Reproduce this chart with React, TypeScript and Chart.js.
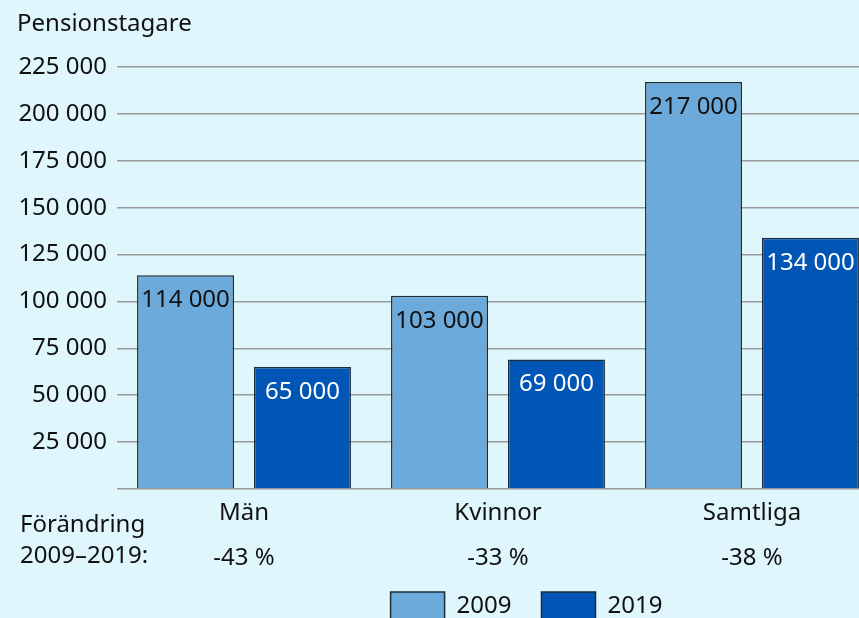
import React, { useEffect, useRef } from "react";
import { Chart, registerables } from "chart.js";

Chart.register(...registerables);

const categories = ["Män", "Kvinnor", "Samtliga"];
const changeLabels = ["-43 %", "-33 %", "-38 %"];
const values2009 = [114000, 103000, 217000];
const values2019 = [65000, 69000, 134000];
const seriesNames = ["2009", "2019"];
const yTicks = [0, 25000, 50000, 75000, 100000, 125000, 150000, 175000, 200000, 225000];
const yTitle = "Pensionstagare";
const sideNote = ["Förändring", "2009–2019:"];

const FONT = "'Noto Sans', sans-serif";
const fmt = (v: number) => String(Math.round(v)).replace(/\B(?=(\d{3})+(?!\d))/g, " ");

const textPlugin = {
  id: "customText",
  afterLayout(chart: any) {
    const lg = chart.legend;
    if (lg) {
      lg.left += 87;
      lg.right += 87;
      lg.top -= 17;
      lg.bottom -= 17;
    }
  },
  afterDatasetsDraw(chart: any) {
    const ctx = chart.ctx;
    ctx.save();
    ctx.font = `24px ${FONT}`;
    ctx.textAlign = "center";
    ctx.textBaseline = "middle";
    chart.data.datasets.forEach((ds: any, di: number) => {
      const meta = chart.getDatasetMeta(di);
      ctx.fillStyle = di === 0 ? "#111111" : "#ffffff";
      meta.data.forEach((bar: any, i: number) => {
        ctx.fillText(fmt(ds.data[i]), bar.x, bar.y + 25);
      });
    });
    ctx.textAlign = "left";
    ctx.fillStyle = "#111111";
    ctx.fillText(yTitle, 17, 24);
    ctx.fillText(sideNote[0], 20, 525);
    ctx.fillText(sideNote[1], 20, 556);
    ctx.restore();
  },
};

export default function App() {
  const ref = useRef<HTMLCanvasElement | null>(null);
  useEffect(() => {
    if (!ref.current) return;
    const chart = new Chart(ref.current, {
      type: "bar",
      data: {
        labels: categories.map((c, i) => [c, changeLabels[i]]),
        datasets: [
          {
            label: seriesNames[0],
            data: values2009,
            backgroundColor: "#6CAADB",
            borderColor: "#1E2C38",
            borderWidth: 1.5,
            categoryPercentage: 0.921,
            barPercentage: 0.829,
          },
          {
            label: seriesNames[1],
            data: values2019,
            backgroundColor: "#0055B5",
            borderColor: "#1E2C38",
            borderWidth: 1.5,
            categoryPercentage: 0.921,
            barPercentage: 0.829,
          },
        ],
      },
      options: {
        responsive: false,
        animation: false,
        layout: { padding: { top: 67, left: 0, right: 1, bottom: 0 } },
        plugins: {
          tooltip: { enabled: false },
          legend: {
            position: "bottom",
            labels: {
              boxWidth: 54,
              boxHeight: 28,
              padding: 30,
              color: "#111111",
              font: { family: FONT, size: 24 },
            },
          },
        },
        scales: {
          x: {
            grid: { display: false, drawTicks: false },
            border: { display: false },
            ticks: {
              padding: 2,
              color: "#111111",
              font: { family: FONT, size: 24, lineHeight: 1.875 },
            },
            afterFit: (s: any) => {
              s.height = 90;
            },
          },
          y: {
            min: 0,
            max: 225000,
            afterBuildTicks: (s: any) => {
              s.ticks = yTicks.map((v) => ({ value: v }));
            },
            grid: { color: "#9A9A9A", lineWidth: 1.5, drawTicks: false },
            border: { display: false },
            ticks: {
              padding: 10,
              color: "#111111",
              font: { family: FONT, size: 24 },
              callback: (v: any) => (Number(v) === 0 ? "" : fmt(Number(v))),
            },
            afterFit: (s: any) => {
              s.width = 117;
            },
          },
        },
      },
      plugins: [textPlugin],
    });
    return () => chart.destroy();
  }, []);
  return (
    <div
      style={{
        position: "fixed",
        left: 0,
        top: 0,
        width: 859,
        height: 618,
        overflow: "hidden",
        background: "#DFF6FD",
      }}
    >
      <canvas ref={ref} width={880} height={647} style={{ position: "absolute", left: 0, top: 0 }} />
    </div>
  );
}
